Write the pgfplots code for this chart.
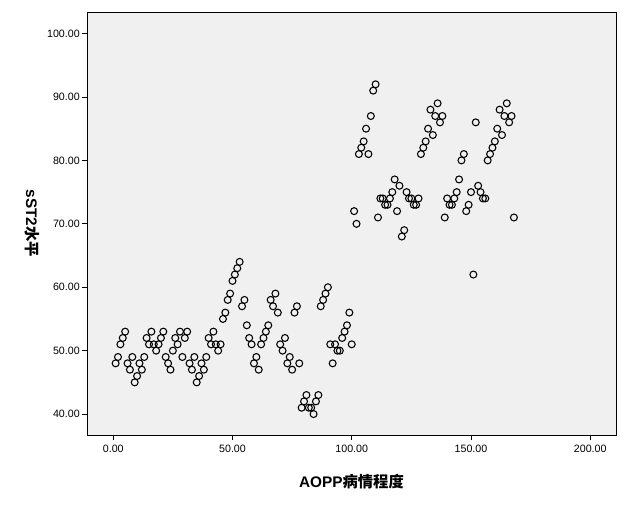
\documentclass[border=0pt]{standalone}
\usepackage{pgfplots}
\pgfplotsset{compat=1.18}
\usepackage{fontspec}
\setmainfont{Liberation Sans}
\newfontfamily\cjk{Noto Sans CJK SC}
\definecolor{bgc}{RGB}{240,240,240}
\begin{document}
\begin{tikzpicture}
\useasboundingbox (0,0) rectangle (471.75pt,378pt);
\begin{axis}[
  at={(65.25pt,51.75pt)}, anchor=south west,
  scale only axis, width=396.75pt, height=317.25pt,
  xmin=-11, xmax=210.8, ymin=36.7, ymax=103.4,
  axis background/.style={fill=bgc},
  axis line style={line width=0.75pt},
  xtick={0,50,100,150,200},
  xticklabels={0.00,50.00,100.00,150.00,200.00},
  ytick={40,50,60,70,80,90,100},
  yticklabels={40.00,50.00,60.00,70.00,80.00,90.00,100.00},
  tick align=outside, xtick pos=bottom, ytick pos=left,
  major tick length=3.75pt,
  tick style={black, line width=0.6pt},
  ticklabel style={font=\fontsize{8}{9}\selectfont, inner sep=1.5pt},
  xticklabel style={yshift=-2pt},
  xlabel={\bfseries AOPP{\cjk\bfseries 病情程度}},
  ylabel={\bfseries sST2{\cjk\bfseries 水平}},
  xlabel style={at={(axis description cs:0.5,-0.111)}, anchor=center, font=\fontsize{11.5}{13}\selectfont},
  ylabel style={at={(axis description cs:-0.104,0.5)}, anchor=center, rotate=180, font=\fontsize{11.5}{13}\selectfont},
]
\addplot[only marks, mark=o, mark size=2.6pt, mark options={line width=0.8pt, draw=black}] coordinates {
(1,48) (2,49) (3,51) (4,52) (5,53) (6,48) (7,47) (8,49) (9,45) (10,46)
(11,48) (12,47) (13,49) (14,52) (15,51) (16,53) (17,51) (18,50) (19,51) (20,52)
(21,53) (22,49) (23,48) (24,47) (25,50) (26,52) (27,51) (28,53) (29,49) (30,52)
(31,53) (32,48) (33,47) (34,49) (35,45) (36,46) (37,48) (38,47) (39,49) (40,52)
(41,51) (42,53) (43,51) (44,50) (45,51) (46,55) (47,56) (48,58) (49,59) (50,61)
(51,62) (52,63) (53,64) (54,57) (55,58) (56,54) (57,52) (58,51) (59,48) (60,49)
(61,47) (62,51) (63,52) (64,53) (65,54) (66,58) (67,57) (68,59) (69,56) (70,51)
(71,50) (72,52) (73,48) (74,49) (75,47) (76,56) (77,57) (78,48) (79,41) (80,42)
(81,43) (82,41) (83,41) (84,40) (85,42) (86,43) (87,57) (88,58) (89,59) (90,60)
(91,51) (92,48) (93,51) (94,50) (95,50) (96,52) (97,53) (98,54) (99,56) (100,51)
(101,72) (102,70) (103,81) (104,82) (105,83) (106,85) (107,81) (108,87) (109,91) (110,92)
(111,71) (112,74) (113,74) (114,73) (115,73) (116,74) (117,75) (118,77) (119,72) (120,76)
(121,68) (122,69) (123,75) (124,74) (125,74) (126,73) (127,73) (128,74) (129,81) (130,82)
(131,83) (132,85) (133,88) (134,84) (135,87) (136,89) (137,86) (138,87) (139,71) (140,74)
(141,73) (142,73) (143,74) (144,75) (145,77) (146,80) (147,81) (148,72) (149,73) (150,75)
(151,62) (152,86) (153,76) (154,75) (155,74) (156,74) (157,80) (158,81) (159,82) (160,83)
(161,85) (162,88) (163,84) (164,87) (165,89) (166,86) (167,87) (168,71)
};
\end{axis}
\end{tikzpicture}
\end{document}
